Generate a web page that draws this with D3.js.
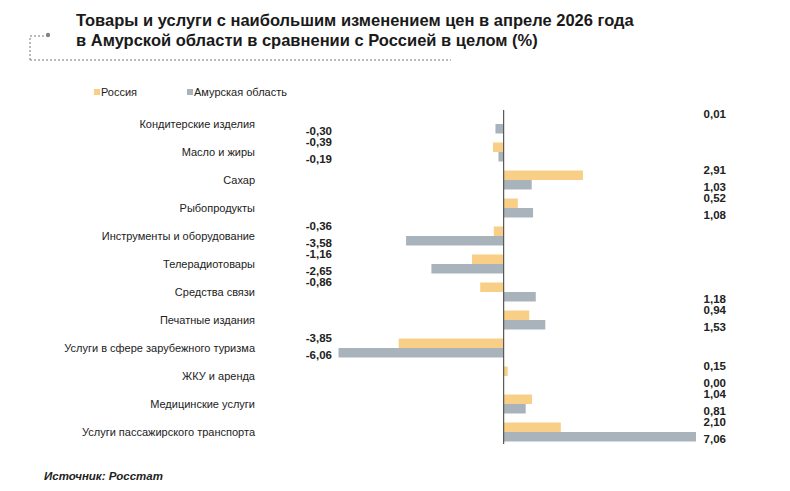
<!DOCTYPE html><html><head><meta charset="utf-8"><script src="https://cdn.jsdelivr.net/npm/d3@7"></script>
<style>body{margin:0;background:#fff;font-family:"Liberation Sans",Arial,sans-serif}</style></head><body><svg id="c" width="790" height="491"></svg>
<script>
const categories=["Кондитерские изделия","Масло и жиры","Сахар","Рыбопродукты","Инструменты и оборудование","Телерадиотовары","Средства связи","Печатные издания","Услуги в сфере зарубежного туризма","ЖКУ и аренда","Медицинские услуги","Услуги пассажирского транспорта"];
const russia=[0.01,-0.39,2.91,0.52,-0.36,-1.16,-0.86,0.94,-3.85,0.15,1.04,2.10];
const amur=[-0.30,-0.19,1.03,1.08,-3.58,-2.65,1.18,1.53,-6.06,0.00,0.81,7.06];
const seriesNames=["Россия","Амурская область"];
const colors=["#f9cf88","#a9b3bb"];
const svg=d3.select("#c");
const x=d3.scaleLinear().domain([-6.06,7.06]).range([338.5,696]);
const y=d3.scaleBand().domain(categories).range([110,446]).paddingInner(0).paddingOuter(0);
const t=svg.append("text").attr("x",76).attr("y",26).attr("font-size",16.5).attr("font-weight","bold").attr("fill","#1a1a1a");
t.append("tspan").attr("x",76).text("Товары и услуги с наибольшим изменением цен в апреле 2026 года");
t.append("tspan").attr("x",76).attr("dy",20).text("в Амурской области в сравнении с Россией в целом (%)");
svg.append("path").attr("d","M30,60 V36 H46").attr("fill","none").attr("stroke","#777").attr("stroke-dasharray","2,2");
svg.append("circle").attr("cx",48).attr("cy",35).attr("r",2.2).attr("fill","#7a8590");
svg.append("line").attr("x1",30).attr("x2",451).attr("y1",60).attr("y2",60).attr("stroke","#777").attr("stroke-dasharray","2,2");
seriesNames.forEach((n,i)=>{const lx=[94,187][i];
svg.append("rect").attr("x",lx).attr("y",89).attr("width",6).attr("height",6).attr("fill",colors[i]);
svg.append("text").attr("x",lx+7).attr("y",96).attr("font-size",11).attr("fill","#222").text(n);});
const bh=9.5;
categories.forEach((c,i)=>{const cy=y(c)+y.bandwidth()/2;
svg.append("text").attr("x",255).attr("y",cy+4).attr("text-anchor","end").attr("font-size",11).attr("fill","#222").text(c);
[russia[i],amur[i]].forEach((v,k)=>{
svg.append("rect").attr("x",Math.min(x(0),x(v))).attr("y",k?cy:cy-bh).attr("width",Math.abs(x(v)-x(0))).attr("height",bh).attr("fill",colors[k]);
const s=v.toFixed(2).replace(".",",");
svg.append("text").attr("x",v<0?332:726).attr("y",k?cy+11:cy-6).attr("text-anchor","end").attr("font-size",11.5).attr("font-weight","bold").attr("fill","#222").text(s);
});});
svg.append("line").attr("x1",x(0)).attr("x2",x(0)).attr("y1",110).attr("y2",444).attr("stroke","#555").attr("stroke-width",1.2);
svg.append("text").attr("x",44).attr("y",480).attr("font-size",11.5).attr("font-weight","bold").attr("font-style","italic").attr("fill","#222").text("Источник: Росстат");
</script></body></html>
